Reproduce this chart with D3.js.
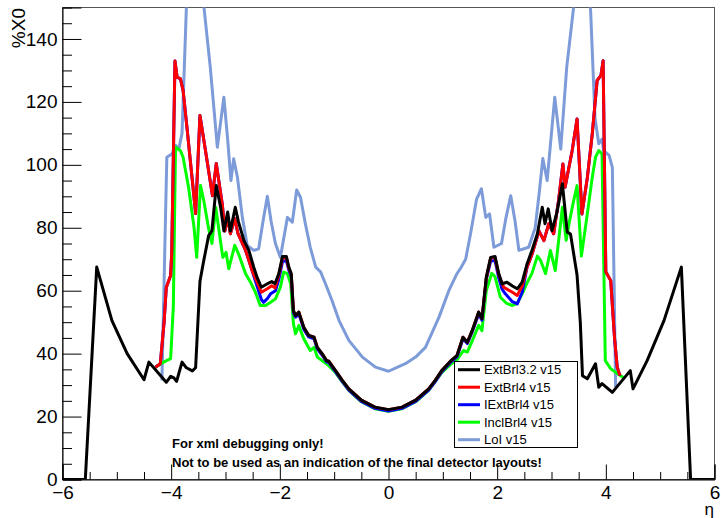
<!DOCTYPE html>
<html><head><meta charset="utf-8">
<script src="https://cdn.jsdelivr.net/npm/d3@7"></script>
<style>
body{margin:0;background:#fff;}
svg{display:block;font-family:"Liberation Sans",Arial,Helvetica,sans-serif;}
</style></head>
<body>
<svg id="c" width="721" height="518"></svg>
<script>
// ---------- data ----------
const seriesNames = ["ExtBrl3.2 v15","ExtBrl4 v15","IExtBrl4 v15","InclBrl4 v15","LoI v15"];
const seriesColors = ["#000000","#ff0000","#0000ff","#00ff00","#7c9bd8"];

const etaBlack = [-6,-5.58,-5.37,-5.09,-4.81,-4.50,-4.41,-4.09,-4.01,-3.95,-3.90,-3.80,-3.72,-3.61,-3.55,-3.47,-3.40,-3.31,-3.25,-3.17,-3.09,-3.03,-2.96,-2.91,-2.82,-2.76,-2.66,-2.57,-2.48,-2.42,-2.34,-2.23,-2.15,-2.09,-2.02,-1.95,-1.88,-1.835,-1.79,-1.75,-1.71,-1.65,-1.56,-1.47,-1.37,-1.31,-1.22,-1.14,-1.10,-0.975,-0.85,-0.73,-0.50,-0.25,0,0.25,0.50,0.74,0.86,0.98,1.14,1.26,1.31,1.37,1.45,1.54,1.66,1.72,1.80,1.88,1.96,2.03,2.09,2.18,2.28,2.37,2.46,2.55,2.64,2.74,2.83,2.88,2.94,3.01,3.10,3.20,3.29,3.35,3.47,3.53,3.57,3.66,3.81,3.87,3.93,4.12,4.45,4.50,4.76,5.07,5.39,5.56,6];
const x0Black = [0,0,67.5,50.5,40,31.7,37.3,30.9,32.8,32.3,31.2,37.3,35.5,34.5,35.5,63,69.6,77.5,79,93.4,86.5,79,85,79,86.5,81.8,75.9,72.8,67.5,64.3,61.1,62.2,62.9,62.2,65.4,70.9,70.9,67.5,65.4,53.7,52.1,53.2,48.4,45.8,45.2,42,39.9,37.8,37.6,34.6,31.5,28.8,25.2,23.0,22.2,23.0,25.2,28.8,31.5,34.6,37.6,39.4,42,45.2,43.6,47.3,53.2,51.1,64.3,70.6,70.9,65.4,62.2,62.7,61.5,60.6,62.7,68.5,72.8,78.1,86.5,81.3,86,79.1,84.9,94,78.6,78,65,50,33,32,36.8,29.3,30.5,27.7,34.6,28.8,37.8,50.5,67.5,0,0];

const etaRed = [-4.29,-4.20,-4.13,-4.09,-4.01,-3.99,-3.93,-3.89,-3.83,-3.78,-3.71,-3.61,-3.55,-3.47,-3.34,-3.24,-3.17,-3.06,-3.01,-2.96,-2.91,-2.83,-2.77,-2.63,-2.51,-2.34,-2.23,-2.15,-2.09,-2.02,-1.95,-1.88,-1.835,-1.79,-1.75,-1.71,-1.65,-1.56,-1.47,-1.37,-1.31,-1.22,-1.14,-1.10,-0.975,-0.85,-0.73,-0.50,-0.25,0,0.25,0.50,0.74,0.86,0.98,1.14,1.26,1.31,1.37,1.45,1.54,1.66,1.72,1.80,1.88,1.96,2.03,2.12,2.18,2.28,2.37,2.46,2.55,2.64,2.77,2.86,2.95,3.04,3.13,3.21,3.25,3.38,3.47,3.56,3.66,3.75,3.84,3.91,3.95,4.00,4.09,4.16,4.21,4.26];
const x0Red = [35.7,36.8,50,61,64.8,72,133,127.8,127.4,123.6,112,95,84.5,115.7,101.4,90.2,100.4,87.6,79,83.4,78.1,82.9,78.1,72.8,66.4,59.5,60.6,61.6,60.9,64.8,70.5,70.5,67.2,65.2,53.6,52.1,53.2,48.4,45.8,45.2,42,39.9,37.8,37.6,34.6,31.5,28.8,25.2,23.0,22.2,23.0,25.2,28.8,31.5,34.6,37.6,39.4,42,45.2,43.6,47.3,53.2,51.1,64,70.4,70.6,65,61.1,60.5,59.5,58.5,61.5,67.5,71.5,79,75.9,81.3,78.1,88.7,100.3,92.9,104.5,114.6,84.4,96,109.8,126.8,128.4,133.1,66,63.2,45,35.7,33];

const etaBlue = [-4.29,-4.20,-4.13,-4.09,-4.01,-3.99,-3.93,-3.89,-3.83,-3.78,-3.71,-3.61,-3.55,-3.47,-3.34,-3.24,-3.17,-3.06,-3.01,-2.96,-2.91,-2.83,-2.77,-2.63,-2.51,-2.42,-2.34,-2.30,-2.23,-2.17,-2.08,-2.02,-1.95,-1.88,-1.835,-1.79,-1.75,-1.71,-1.65,-1.56,-1.47,-1.37,-1.31,-1.22,-1.14,-1.10,-0.975,-0.85,-0.73,-0.50,-0.25,0,0.25,0.50,0.74,0.86,0.98,1.14,1.26,1.31,1.37,1.45,1.54,1.66,1.72,1.80,1.88,1.96,2.03,2.09,2.15,2.28,2.37,2.46,2.55,2.64,2.77,2.86,2.95,3.04,3.13,3.21,3.25,3.38,3.47,3.56,3.66,3.75,3.84,3.91,3.95,4.00,4.09,4.16,4.21,4.26];
const x0Blue = [35.7,36.8,50,61,64.8,72,133,127.8,127.4,123.6,112,95,84.5,115.7,101.4,90.2,100.4,87.6,79,83.4,78.1,82.9,78.1,72.8,66.4,61.5,57.2,56.3,57.5,59,60,63.5,69.3,69.6,66.5,64.6,53.0,51.6,52.6,47.8,45.3,44.7,41.5,39.5,37.4,37.2,34.2,31.1,28.4,24.8,22.6,21.8,22.6,24.8,28.4,31.1,34.2,37.2,39.0,41.5,44.7,43.2,46.8,52.6,50.6,63.6,69.4,69.6,64,60.5,59,56.5,55.8,59.5,67.5,71.5,79,75.9,81.3,78.1,88.7,100.3,92.9,104.5,114.6,84.4,96,109.8,126.8,128.4,133.1,66,63.2,45,35.7,33];

const etaGreen = [-4.29,-4.14,-4.01,-3.96,-3.92,-3.83,-3.78,-3.68,-3.58,-3.53,-3.46,-3.40,-3.31,-3.25,-3.18,-3.05,-2.99,-2.94,-2.83,-2.76,-2.63,-2.54,-2.45,-2.36,-2.26,-2.17,-2.08,-1.99,-1.93,-1.86,-1.80,-1.75,-1.71,-1.65,-1.56,-1.44,-1.37,-1.31,-1.10,-0.975,-0.85,-0.73,-0.50,-0.25,0,0.25,0.50,0.74,0.98,1.14,1.26,1.38,1.45,1.54,1.66,1.72,1.80,1.90,1.96,2.06,2.17,2.28,2.37,2.46,2.55,2.64,2.74,2.80,2.89,2.98,3.07,3.20,3.27,3.33,3.40,3.47,3.55,3.66,3.75,3.81,3.87,3.93,3.99,4.09,4.20,4.33];
const x0Green = [35.7,37.3,38.4,55,105.6,104.5,102.4,92.9,80.2,70.6,93.4,88.7,79.7,75,86.5,70.6,72.2,67,74.4,71.7,65.4,62.7,59.5,55.3,55.3,56.3,57.4,61.1,65.9,65.4,62.2,49.5,46.3,48.9,44.7,41,42,38.9,36.2,34.0,31.0,28.3,24.7,22.5,21.7,22.5,24.7,28.3,34.0,36.5,38,41,40.5,44,49,47.3,60,65.5,64.5,57.9,56,55.3,56,59,62.5,65.5,71,69.6,65.4,72.8,66.4,86.5,76,82,88,93.4,71,84.5,96,102.4,104.5,103.5,37.8,35.2,33.8,32.3];

const etaLoI = [-4.17,-4.08,-3.98,-3.92,-3.86,-3.80,-3.72,-3.55,-3.39,-3.28,-3.15,-3.03,-2.96,-2.90,-2.85,-2.78,-2.69,-2.60,-2.48,-2.39,-2.31,-2.23,-2.16,-2.08,-1.99,-1.86,-1.77,-1.69,-1.62,-1.53,-1.44,-1.34,-1.25,-1.16,-1.04,-0.91,-0.73,-0.48,-0.24,0,0.31,0.50,0.68,0.93,1.11,1.26,1.34,1.42,1.51,1.62,1.71,1.79,1.86,1.94,2.08,2.16,2.25,2.33,2.40,2.58,2.70,2.78,2.84,2.92,3.06,3.17,3.28,3.40,3.56,3.72,3.80,3.87,3.93,3.96,4.06,4.12,4.18];
const x0LoI = [31.5,102.4,103.5,106.2,105,110,150,175,149,131,105.6,121.5,108,95,101.9,96,83.3,74.4,72.8,73.3,82,90,82,74.9,70.6,83.3,81.8,92,89.7,81.3,73.8,67.5,66,62.2,56.9,50.5,44.2,38.9,35.7,34.4,36.8,38.9,42,51.6,60,65.4,67.5,70,78.1,89,92.4,83.3,84.4,73.8,75,83,90.2,82,72.8,73.8,80,92,102,95,121.5,105,131,149,175,149,115,106.7,108.2,104.5,103,99.2,29.3];

const yMajorTicks = [0,20,40,60,80,100,120,140];
const xMajorTicks = [-6,-4,-2,0,2,4,6];
const noteLines = ["For xml debugging only!","Not to be used as an indication of the final detector layouts!"];
const xTitle = "η", yTitle = "%X0";

// ---------- drawing ----------
const svg = d3.select("#c");
const L=62.5, R=714.5, T=7.5, B=479.5;
const x = d3.scaleLinear().domain([-6,6]).range([L,R]);
const y = d3.scaleLinear().domain([0,150]).range([B,T]);

svg.append("rect").attr("width",721).attr("height",518).attr("fill","#fff");
svg.append("defs").append("clipPath").attr("id","clip")
  .append("rect").attr("x",L).attr("y",T).attr("width",R-L).attr("height",B-T);

// frame
svg.append("rect").attr("x",L).attr("y",T).attr("width",R-L).attr("height",B-T)
  .attr("fill","none").attr("stroke","#555").attr("stroke-width",1);

const zip = (a,b)=>a.map((e,i)=>[e,b[i]]);
const series = [
  {eta:etaLoI, v:x0LoI, c:seriesColors[4]},
  {eta:etaGreen, v:x0Green, c:seriesColors[3]},
  {eta:etaBlue, v:x0Blue, c:seriesColors[2]},
  {eta:etaRed, v:x0Red, c:seriesColors[1]},
  {eta:etaBlack, v:x0Black, c:seriesColors[0]}
];
const line = d3.line().x(d=>x(d[0])).y(d=>y(d[1]));
const g = svg.append("g").attr("clip-path","url(#clip)");
series.forEach(s=>{
  g.append("path").datum(zip(s.eta,s.v)).attr("d",line)
   .attr("fill","none").attr("stroke",s.c).attr("stroke-width",3)
   .attr("stroke-linejoin","round");
});

// axes
const fmt = d3.format("d");
const yMinor = d3.range(0,151,5).filter(v=>v%20!==0);
const xMinor = d3.range(-6,6.01,0.5).filter(v=>Math.abs(v%2)>1e-6);

const gy = svg.append("g").attr("transform",`translate(${L},0)`);
gy.call(d3.axisLeft(y).tickValues(yMajorTicks).tickSize(-19).tickPadding(5).tickFormat(fmt));
const gy2 = svg.append("g").attr("transform",`translate(${L},0)`);
gy2.call(d3.axisLeft(y).tickValues(yMinor).tickSize(-9.5).tickFormat(""));
gy2.select(".domain").remove();

const gx = svg.append("g").attr("transform",`translate(0,${B})`);
gx.call(d3.axisBottom(x).tickValues(xMajorTicks).tickSize(-15).tickPadding(6).tickFormat(fmt));
const gx2 = svg.append("g").attr("transform",`translate(0,${B})`);
gx2.call(d3.axisBottom(x).tickValues(xMinor).tickSize(-7.5).tickFormat(""));
gx2.select(".domain").remove();

svg.selectAll(".tick text").attr("font-size",19).attr("fill","#000")
  .attr("font-family","Liberation Sans, Arial, sans-serif");
svg.selectAll(".domain").attr("stroke","#000");

// axis titles
svg.append("text").attr("x",714).attr("y",515).attr("text-anchor","end")
  .attr("font-size",17).text(xTitle);
svg.append("text").attr("transform","translate(25,8) rotate(-90)")
  .attr("text-anchor","end").attr("font-size",19).text(yTitle);

// note text
noteLines.forEach((t,i)=>{
  svg.append("text").attr("x",172).attr("y",448+i*18.5)
    .attr("font-size",13).attr("font-weight","bold").text(t);
});

// legend
const lg = svg.append("g");
lg.append("rect").attr("x",454.5).attr("y",361.5).attr("width",123).attr("height",86)
  .attr("fill","#fff").attr("stroke","#000").attr("stroke-width",1);
seriesNames.forEach((n,i)=>{
  const yy = 369.7 + i*17.5;
  lg.append("line").attr("x1",458).attr("x2",480).attr("y1",yy).attr("y2",yy)
    .attr("stroke",seriesColors[i]).attr("stroke-width",3);
  lg.append("text").attr("x",484).attr("y",yy).attr("dy","0.36em")
    .attr("font-size",13).text(n);
});
</script>
</body></html>
